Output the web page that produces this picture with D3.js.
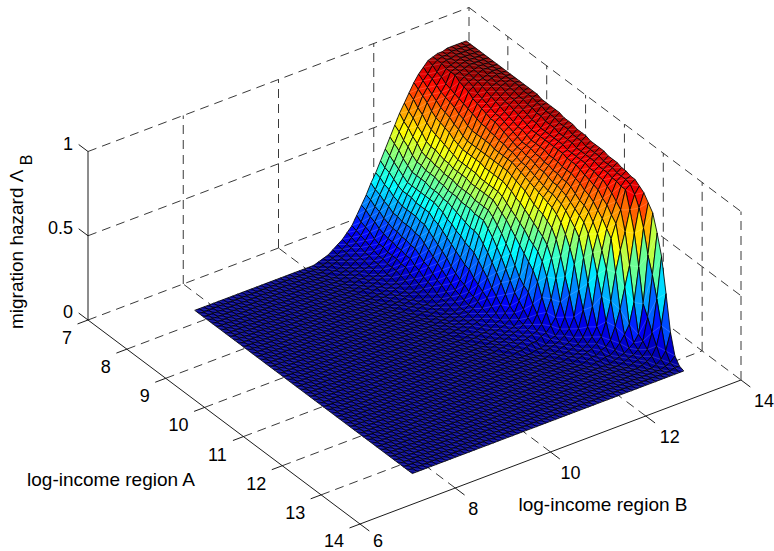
<!DOCTYPE html>
<html><head><meta charset="utf-8">
<script src="https://cdn.jsdelivr.net/npm/d3@7"></script>
<style>html,body{margin:0;padding:0;background:#fff}svg{display:block}text{font-family:"Liberation Sans",Arial,sans-serif;fill:#000}</style>
</head><body><svg id="c" width="774" height="551"></svg>
<script>
const aTicks=[7,8,9,10,11,12,13,14];
const bTicks=[6,8,10,12,14];
const zTicks=[0,0.5,1];
const zTickLabels=["0","0.5","1"];
const aRange=[7.7,13.3];
const bRange=[7.67,13.37];
const gridCols=58;
// hazard in percent; each row is one region-A income, read from the far B edge toward low B; unlisted cells lie on the floor (0)
const hazardRows=[
[99,99,99,99,99,98,98,97,96,93,90,86,81,76,71,65,59,53,47,41,36,30,25,20,15,12,9,7,5,3,2,1],
[99,99,99,99,99,98,98,97,95,91,88,84,79,73,68,63,57,51,45,40,34,29,24,18,14,11,8,6,4,3,2,1],
[99,99,99,99,99,98,98,97,93,90,86,82,76,71,66,60,55,49,44,38,33,27,22,17,13,10,8,6,4,3,2,1],
[99,99,99,99,99,98,97,96,92,88,84,80,74,68,63,58,52,47,42,37,31,26,21,16,12,9,7,5,4,2,1,1],
[99,99,99,99,99,98,97,96,90,86,82,77,71,66,61,55,50,45,40,35,30,24,19,14,11,8,6,5,3,2,1],
[99,99,99,99,99,98,97,96,89,85,80,75,69,63,58,53,48,43,39,34,28,23,18,13,10,8,6,4,3,2,1],
[99,99,99,99,98,97,96,94,88,84,79,74,68,62,57,53,48,43,39,33,28,22,17,13,9,7,5,4,3,2,1],
[99,99,99,99,98,96,95,93,87,83,78,73,67,62,57,52,48,43,39,33,27,22,17,12,9,7,5,3,2,2,1],
[99,99,99,98,97,96,94,92,86,81,76,72,66,61,56,52,48,43,38,33,27,21,16,12,8,6,4,3,2,1,1],
[99,99,99,98,97,95,92,90,85,80,75,70,65,60,56,52,47,43,38,33,27,21,16,12,8,5,4,3,2,1,1],
[99,99,98,97,96,94,91,89,84,78,73,69,64,60,55,51,47,43,38,32,26,20,15,11,8,5,3,2,2,1],
[99,99,98,97,95,93,90,88,83,77,72,68,63,59,55,51,47,43,38,32,26,20,15,11,7,4,3,2,1,1],
[99,99,97,96,94,92,89,87,82,77,72,68,63,59,55,50,46,42,36,30,24,18,13,9,6,4,3,2,1,1],
[99,99,97,95,93,91,88,86,82,77,72,68,63,59,54,50,46,41,35,28,22,16,12,8,5,3,2,2,1],
[99,98,96,95,93,90,88,86,81,77,72,68,63,59,54,50,45,39,33,26,20,15,10,7,4,3,2,1,1],
[99,98,96,94,92,89,87,85,81,77,72,68,63,58,54,49,44,38,31,24,18,13,9,6,4,2,2,1,1],
[99,98,95,93,91,88,86,84,80,76,72,67,62,58,54,49,43,36,29,22,16,11,8,5,3,2,1,1],
[98,97,95,92,90,87,85,83,80,76,72,67,62,58,53,49,42,35,27,19,14,10,6,4,2,2,1],
[98,97,94,91,89,87,84,82,79,76,72,67,62,58,53,48,41,33,25,17,12,8,5,3,2,1,1],
[98,96,94,91,88,86,83,81,79,76,72,67,62,58,53,48,41,32,23,15,10,7,5,3,2,1],
[98,96,93,90,88,85,83,81,78,76,72,67,62,58,53,48,40,31,22,14,9,6,4,2,1,1],
[98,96,93,90,88,85,83,80,77,75,71,66,61,56,51,45,37,28,19,12,8,5,3,2,1,1],
[97,95,93,90,88,85,82,80,77,74,70,65,59,54,48,42,34,25,17,11,7,5,3,2,1,1],
[97,95,92,90,88,85,82,79,76,73,69,63,57,52,45,38,30,22,15,10,7,5,3,2,1,1],
[97,95,92,90,88,84,81,78,75,72,68,62,55,49,41,34,26,18,13,8,6,4,3,2,1,1],
[96,94,92,90,88,84,81,78,74,71,66,60,53,46,37,29,22,15,10,7,5,4,3,2,1,1],
[96,94,92,89,88,84,80,77,73,70,64,58,51,43,32,24,17,12,8,6,4,3,2,1,1],
[96,94,91,89,87,83,80,76,72,69,63,56,48,40,27,19,12,9,6,5,3,2,2,1,1],
[95,93,91,89,87,83,79,76,72,68,62,54,46,37,24,16,10,7,5,4,3,2,1,1],
[95,93,91,89,87,83,79,75,71,67,60,52,44,34,22,13,8,5,4,3,2,1,1],
[95,93,91,89,86,82,78,74,70,65,58,49,40,29,17,10,7,5,4,3,2,1,1],
[95,93,91,88,85,81,76,72,68,62,53,43,33,22,13,8,6,4,3,2,2,1,1],
[94,92,90,88,84,79,74,70,65,57,45,33,22,15,9,6,5,4,3,2,1,1],
[94,92,90,87,83,78,73,68,62,51,35,21,13,9,6,5,3,3,2,1,1],
[94,92,90,87,82,76,71,66,58,43,26,14,8,5,4,2,1,1],
[93,91,89,85,79,73,67,61,48,30,15,9,6,4,3,2,1],
[93,91,89,83,77,70,62,52,35,20,10,6,4,3,2,1,1],
[92,91,88,80,73,66,54,41,23,12,7,4,3,2,1,1],
[92,90,88,77,70,62,45,30,13,8,5,3,2,1,1],
[90,86,78,66,56,44,28,17,9,6,4,3,2,1],
[88,80,66,48,36,24,15,8,5,4,2,2,1],
[84,70,48,28,16,11,7,4,2,2,1,1],
[80,56,28,11,7,5,3,2,1],
[70,46,22,9,5,3,2,1],
[58,34,15,6,3,2,1],
[38,20,9,4,2,1],
[17,7,3,1],
[5,2,1],
[1,1],
[0]
];
const jetStops=[0,0.125,0.375,0.625,0.875,1];
const jetColors=["#00008f","#0000ff","#00ffff","#ffff00","#ff0000","#800000"];

const svg=d3.select("#c");
const origin=[88,320];
const aX=d3.scaleLinear([7,14],[0,272]), aY=d3.scaleLinear([7,14],[0,204]);
const bX=d3.scaleLinear([6,14],[0,381]), bY=d3.scaleLinear([6,14],[0,-144]);
const zY=d3.scaleLinear([0,1],[0,-168.5]);
const P=(a,b,z)=>[origin[0]+aX(a)+bX(b),origin[1]+aY(a)+bY(b)+zY(z)];
const color=d3.scaleLinear().domain(jetStops).range(jetColors).clamp(true);
const line=d3.line();

// dashed grid
const grid=[];
aTicks.slice(1,-1).forEach(a=>grid.push([P(a,6,0),P(a,14,0)]));
bTicks.slice(1,-1).forEach(b=>grid.push([P(14,b,0),P(7,b,0)]));
bTicks.slice(1).forEach(b=>grid.push([P(7,b,0),P(7,b,1)]));
zTicks.forEach(z=>grid.push([P(7,6,z),P(7,14,z)]));
aTicks.slice(1).forEach(a=>grid.push([P(a,14,0),P(a,14,1)]));
zTicks.forEach(z=>grid.push([P(7,14,z),P(14,14,z)]));
svg.append("g").selectAll("path").data(grid).join("path")
 .attr("d",line).attr("fill","none").attr("stroke","#222").attr("stroke-width",0.9).attr("stroke-dasharray","9 6");

// surface
const aAt=d3.scaleLinear([0,hazardRows.length-1],aRange);
const bAt=d3.scaleLinear([0,gridCols-1],bRange);
const zAt=(i,j)=>{const v=hazardRows[i][gridCols-1-j];return (v===undefined?0:v)/100;};
const V=(i,j)=>P(aAt(i),bAt(j),zAt(i,j));
const cells=[];
for(let i=0;i<hazardRows.length-1;i++){
 for(let j=gridCols-2;j>=0;j--){
  cells.push({i,j});
 }
}
const surf=svg.append("g");
cells.forEach(({i,j})=>{
 const q=[V(i,j),V(i+1,j),V(i+1,j+1),V(i,j+1)];
 surf.append("path").attr("d",line(q)+"Z").attr("fill",color(zAt(i,j)))
  .attr("stroke","#000").attr("stroke-width",0.85).attr("stroke-linejoin","round");
 surf.append("path").attr("d",line([q[0],q[2]])).attr("fill","none")
  .attr("stroke","#fff").attr("stroke-opacity",0.3).attr("stroke-width",0.6);
});

// solid axes and ticks
const axes=[[P(7,6,0),P(14,6,0)],[P(14,6,0),P(14,14,0)],[P(7,6,0),P(7,6,1)]];
const tickA=aTicks.map(a=>[P(a,6,0),P(a,5.78,0)]);
const tickB=bTicks.map(b=>[P(14,b,0),P(14.24,b,0)]);
const tickZ=zTicks.map(z=>[P(7,6,z),P(6.76,6,z)]);
svg.append("g").selectAll("path").data(axes.concat(tickA,tickB,tickZ)).join("path")
 .attr("d",line).attr("fill","none").attr("stroke","#000").attr("stroke-width",0.9);

// tick labels
const fs=18;
const lab=(x,y,s,anchor,size)=>svg.append("text").attr("x",x).attr("y",y).attr("text-anchor",anchor||"middle").attr("font-size",size||fs).text(s);
zTicks.forEach((z,k)=>{const p=P(7,6,z);lab(p[0]-15,p[1]-2,zTickLabels[k],"end");});
aTicks.forEach(a=>{const p=P(a,6,0);lab(p[0]+(a>9?-26:-21),p[1]+(a==14?23:24),String(a));});
const bLabelDx=[18,18,20,24,23];
bTicks.forEach((b,k)=>{const p=P(14,b,0);lab(p[0]+bLabelDx[k],p[1]+(b==6?23:27),String(b));});
lab(111,486,"log-income region A","middle",19);
lab(603,511,"log-income region B","middle",19);
const yl=svg.append("text").attr("transform","translate(23,329) rotate(-90)").attr("font-size",19);
yl.append("tspan").text("migration hazard \u039B ");
yl.append("tspan").attr("dy",9).attr("font-size",16).text("B");
</script></body></html>
